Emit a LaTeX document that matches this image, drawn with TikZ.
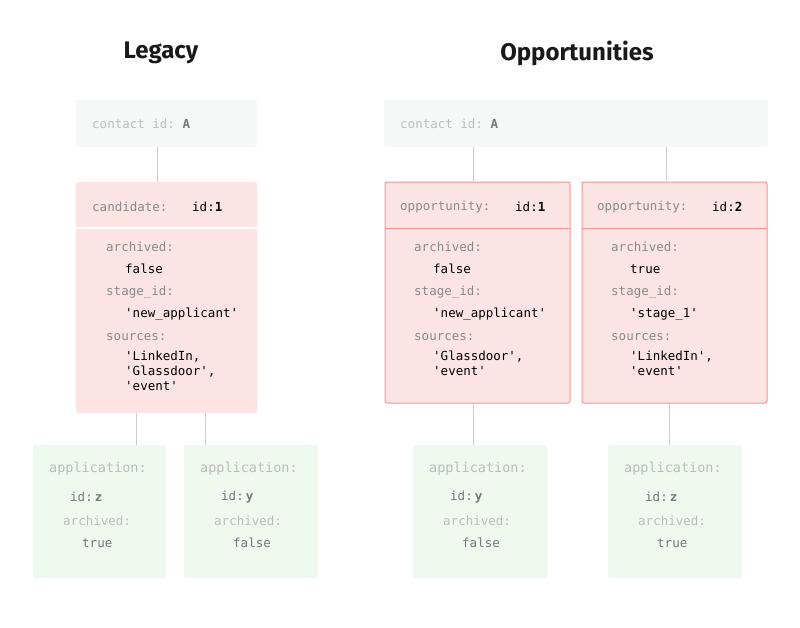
\documentclass[tikz,border=0pt]{standalone}
\usepackage{fontspec}
\setmonofont{DejaVu Sans Mono}
\newfontfamily\titlefont{Fira Sans}
\definecolor{graybg}{HTML}{F6F7F7}
\definecolor{pinkbg}{HTML}{FDE4E4}
\definecolor{pinkbd}{HTML}{F29595}
\definecolor{greenbg}{HTML}{EFF9F0}
\definecolor{keyc}{HTML}{8A8A8A}
\definecolor{lightc}{HTML}{BDBDBD}
\definecolor{idc}{HTML}{777777}
\definecolor{linec}{HTML}{CCCCCC}
\tikzset{
 txt/.style={anchor=west,inner sep=0pt,font=\ttfamily\fontsize{12.5}{15}\selectfont},
 key/.style={txt,text=keyc},
 val/.style={txt,text=black},
 lt/.style={txt,text=lightc},
 idk/.style={txt,text=idc},
 conn/.style={draw=linec,line width=0.8pt},
 ttl/.style={font=\titlefont\bfseries\fontsize{24}{28}\selectfont,text=black!90},
}
\begin{document}
\begin{tikzpicture}[x=1pt,y=-1pt]
\useasboundingbox (0,0) rectangle (800,627);
\node[ttl] (t1) at (161,53) {Legacy};
\node[ttl] (t2) at (577,53) {Opportunities};
% boxes
\fill[graybg,rounded corners=2pt] (76,100) rectangle (257,147);
\coordinate (cL) at (157,147);
\fill[graybg,rounded corners=2pt] (384,100) rectangle (768,147);
\coordinate (cR1) at (473,147);
\coordinate (cR2) at (666,147);
\fill[pinkbg,rounded corners=2pt] (76,182) rectangle (257,413);
\draw[white,line width=1.5pt] (76,228) -- (257,228);
\coordinate (candT) at (157,182);
\coordinate (candB1) at (136,413);
\coordinate (candB2) at (205,413);
\draw[pinkbd,fill=pinkbg,line width=1pt,rounded corners=2pt] (385,182) rectangle (570,403);
\draw[pinkbd,line width=1pt] (385,228) -- (570,228);
\draw[pinkbd,fill=pinkbg,line width=1pt,rounded corners=2pt] (582,182) rectangle (767,403);
\draw[pinkbd,line width=1pt] (582,228) -- (767,228);
\coordinate (o1T) at (473,182); \coordinate (o1B) at (473,403);
\coordinate (o2T) at (666,182); \coordinate (o2B) at (669,403);
\foreach \a/\b/\n in {33/166/a1,184/318/a2,413/547/a3,608/742/a4}{
 \fill[greenbg,rounded corners=2pt] (\a,445) rectangle (\b,578);
}
\coordinate (a1T) at (136,445); \coordinate (a2T) at (205,445);
\coordinate (a3T) at (473,445); \coordinate (a4T) at (669,445);
\draw[conn] (cL) -- (candT);
\draw[conn] (candB1) -- (a1T);
\draw[conn] (candB2) -- (a2T);
\draw[conn] (cR1) -- (o1T);
\draw[conn] (cR2) -- (o2T);
\draw[conn] (o1B) -- (a3T);
\draw[conn] (o2B) -- (a4T);
% contact texts
\node[lt] (ct1) at (92,124) {contact id: \textcolor{idc}{\bfseries A}};
\node[lt] (ct2) at (400,124) {contact id: \textcolor{idc}{\bfseries A}};
% candidate
\node[key] (ch) at (92,207) {candidate:};
\node[val] (chid) at (192,207) {id:\bfseries 1};
\node[key] at (106,247) {archived:};
\node[val] at (125,269) {false};
\node[key] at (106,292) {stage\_id:};
\node[val] at (125,314) {'new\_applicant'};
\node[key] at (106,337) {sources:};
\node[val,align=left,anchor=north west] at (125,351) {'LinkedIn,\\'Glassdoor',\\'event'};
% opp1
\node[key] (o1h) at (400,207) {opportunity:};
\node[val] at (515,207) {id:\bfseries 1};
\node[key] at (414,247) {archived:};
\node[val] at (433,269) {false};
\node[key] at (414,292) {stage\_id:};
\node[val] at (433,314) {'new\_applicant'};
\node[key] at (414,337) {sources:};
\node[val,align=left,anchor=north west] at (433,351) {'Glassdoor',\\'event'};
% opp2
\node[key] (o2h) at (597,207) {opportunity:};
\node[val] at (712,207) {id:\bfseries 2};
\node[key] at (611,247) {archived:};
\node[val] at (630,269) {true};
\node[key] at (611,292) {stage\_id:};
\node[val] at (630,314) {'stage\_1'};
\node[key] at (611,337) {sources:};
\node[val,align=left,anchor=north west] at (630,351) {'LinkedIn',\\'event'};
% apps
\foreach \x/\i/\v in {49/z/true,200/y/false,429/y/false,624/z/true}{
 \node[lt,font=\ttfamily\fontsize{13.5}{15}\selectfont] at (\x,469) {application:};
 \node[idk] at (\x+21,497) {id:\,\bfseries\i};
 \node[lt] at (\x+14,521) {archived:};
 \node[idk] at (\x+33,543) {\v};
}
\end{tikzpicture}
\end{document}
